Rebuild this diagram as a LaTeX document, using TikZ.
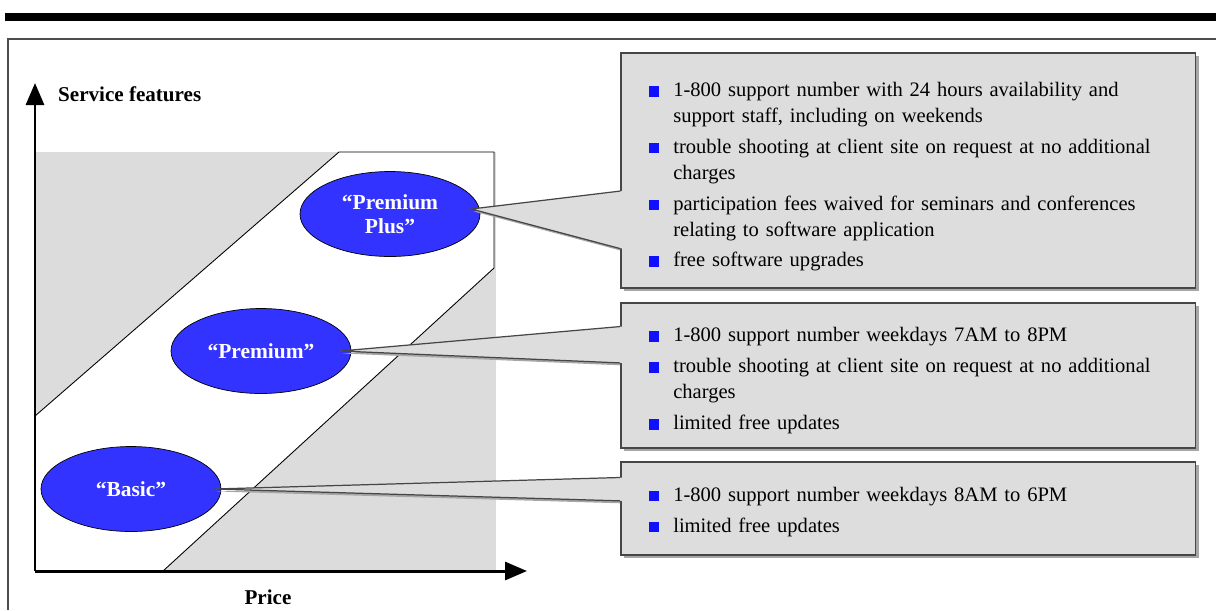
\documentclass[tikz,border=0pt]{standalone}
\usepackage{fontspec}
\setmainfont{Liberation Serif}
\usetikzlibrary{shapes.geometric, arrows.meta, shadows, calc, positioning}

\definecolor{tierblue}{RGB}{51,51,255}
\definecolor{bulletblue}{RGB}{16,16,255}
\definecolor{zonegray}{RGB}{220,220,220}
\definecolor{boxgray}{RGB}{221,221,221}
\definecolor{edgegray}{RGB}{70,70,70}

% one bullet line of a service offer
\newcommand{\feat}[1]{\par\hangindent=0.49cm\hangafter=1\noindent
  \makebox[0.49cm][l]{\textcolor{bulletblue}{\rule{0.21cm}{0.21cm}}}#1}

\tikzset{
  tier/.style={draw=black, thin, ellipse, fill=tierblue, text=white, align=center,
    font=\bfseries\fontsize{12.2}{13.5}\selectfont, minimum width=3.6cm, minimum height=1.7cm, inner sep=0pt},
  offer/.style={draw=edgegray, line width=0.9pt, fill=boxgray, anchor=west,
    minimum width=11.5cm, text width=10.38cm, inner xsep=0.56cm,
    font=\fontsize{11.7}{14.75}\selectfont\setlength{\parskip}{0.1cm},
    drop shadow={shadow xshift=0.06cm, shadow yshift=-0.06cm, fill=black!35, opacity=1}},
  axis/.style={line width=1.7pt, -{Triangle[length=0.44cm, width=0.36cm]}},
  axislabel/.style={font=\bfseries\fontsize{12}{14}\selectfont},
  wedge/.style={draw=edgegray, line width=0.7pt},
}

\begin{document}
\begin{tikzpicture}[x=0.02cm, y=-0.02cm]
  \useasboundingbox (0,0) rectangle (1216,610);

  % page rule and frame
  \fill (5,13) rectangle (1216,21);
  \draw[black!70, line width=0.8pt] (8,610) -- (8,39) -- (1216,39);

  % price / features zones
  \coordinate (origin) at (35,571);
  \coordinate (bandtl) at (339,152);
  \coordinate (bandtr) at (494,152);
  \coordinate (bandr) at (494,268);
  \coordinate (bandb) at (163,571);
  \coordinate (bandl) at (35,416);
  \fill[zonegray] (35,152) rectangle (496,571);
  \fill[white] (bandl) -- (bandtl) -- (bandtr) -- (bandr) -- (bandb) -- (origin) -- cycle;
  \draw[line width=0.5pt] (bandl) -- (bandtl) -- (bandtr) -- (bandr) -- (bandb);

  % axes
  \coordinate (ytip) at (35,83);
  \coordinate (xtip) at (527,571);
  \draw[axis] (origin) -- (ytip);
  \draw[axis] (origin) -- (xtip);
  \node[axislabel, anchor=west] (ylabel) at (52,94) {Service features};
  \node[axislabel] (xlabel) at (268,597) {Price};

  % service tiers
  \node[tier] (plus) at (390,214) {``Premium\\Plus''};
  \node[tier] (premium) at (261,351) {``Premium''};
  \node[tier] (basic) at (131,489) {``Basic''};

  % offers
  \node[offer, minimum height=4.7cm] (plusbox) at (620,170.5) {
    \feat{1-800 support number with 24 hours availability and\newline support staff, including on weekends}
    \feat{trouble shooting at client site on request at no additional\newline charges}
    \feat{participation fees waived for seminars and conferences\newline relating to software application}
    \feat{free software upgrades}\par\kern0.08cm};
  \node[offer, minimum height=2.9cm] (premiumbox) at (620,375.5) {
    \feat{1-800 support number weekdays 7AM to 8PM}
    \feat{trouble shooting at client site on request at no additional\newline charges}
    \feat{limited free updates}\par\kern0.12cm};
  \node[offer, minimum height=1.86cm] (basicbox) at (620,508.5) {
    \feat{1-800 support number weekdays 8AM to 6PM}
    \feat{limited free updates}\par\kern0.2cm};

  % pointers from the offers to the tiers
  \coordinate (pa) at ($(plusbox.north west)!0.587!(plusbox.south west)$);
  \coordinate (pb) at ($(plusbox.north west)!0.83!(plusbox.south west)$);
  \coordinate (ma) at ($(premiumbox.north west)!0.166!(premiumbox.south west)$);
  \coordinate (mb) at ($(premiumbox.north west)!0.414!(premiumbox.south west)$);
  \coordinate (ba) at ($(basicbox.north west)!0.172!(basicbox.south west)$);
  \coordinate (bb) at ($(basicbox.north west)!0.419!(basicbox.south west)$);
  \coordinate (pt) at ([xshift=-0.18cm, yshift=0.1cm]plus.east);
  \coordinate (mt) at ([xshift=-0.22cm]premium.east);
  \coordinate (bt) at ([xshift=-0.14cm]basic.east);

  \begin{scope}
    \clip (0,0) rectangle (620,610);
    \fill[black!35] ([shift={(0.05cm,-0.05cm)}]pt) -- ([shift={(0.05cm,-0.05cm)}]pa) -- ([shift={(0.05cm,-0.05cm)}]pb) -- cycle;
    \fill[black!35] ([shift={(0.05cm,-0.05cm)}]mt) -- ([shift={(0.05cm,-0.05cm)}]ma) -- ([shift={(0.05cm,-0.05cm)}]mb) -- cycle;
    \fill[black!35] ([shift={(0.05cm,-0.05cm)}]bt) -- ([shift={(0.05cm,-0.05cm)}]ba) -- ([shift={(0.05cm,-0.05cm)}]bb) -- cycle;
  \end{scope}
  \fill[boxgray] (pt) -- ([xshift=1.2pt]pa) -- ([xshift=1.2pt]pb) -- cycle;
  \fill[boxgray] (mt) -- ([xshift=1.2pt]ma) -- ([xshift=1.2pt]mb) -- cycle;
  \fill[boxgray] (bt) -- ([xshift=1.2pt]ba) -- ([xshift=1.2pt]bb) -- cycle;
  \draw[wedge] (pa) -- (pt) -- (pb);
  \draw[wedge] (ma) -- (mt) -- (mb);
  \draw[wedge] (ba) -- (bt) -- (bb);
\end{tikzpicture}
\end{document}
